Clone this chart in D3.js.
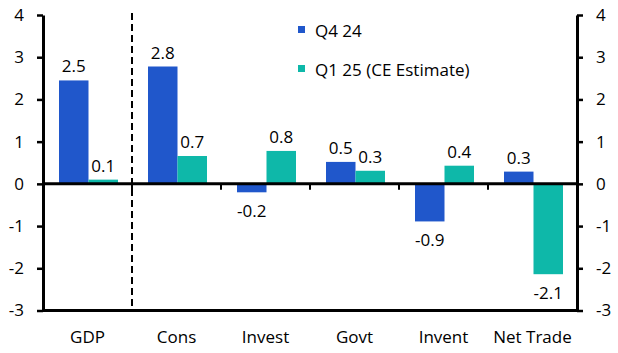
<!DOCTYPE html>
<html>
<head>
<meta charset="utf-8">
<script src="https://cdn.jsdelivr.net/npm/d3@7"></script>
<style>
	body { margin: 0; background: #fff; }
	svg text { font-family: "Open Sans", sans-serif; fill: #000; }
</style>
</head>
<body>
<div id="chart"></div>
<script>
/* contributions chart */

var categories = ["GDP", "Cons", "Invest", "Govt", "Invent", "Net Trade"];
var seriesNames = ["Q4 24", "Q1 25 (CE Estimate)"];
var seriesColors = ["#2057CB", "#0EB8A9"];
var q4Values = [2.45, 2.78, -0.2, 0.52, -0.89, 0.29];
var q1Values = [0.1, 0.66, 0.78, 0.31, 0.43, -2.14];
var q4Labels = ["2.5", "2.8", "-0.2", "0.5", "-0.9", "0.3"];
var q1Labels = ["0.1", "0.7", "0.8", "0.3", "0.4", "-2.1"];
var yTicks = [-3, -2, -1, 0, 1, 2, 3, 4];

var w = 618, h = 353;
var plotLeft = 43, plotRight = 577, plotTop = 15, plotBottom = 310.5;

var svg = d3.select("#chart").append("svg")
	.attr("width", w)
	.attr("height", h);

var x = d3.scaleBand().domain(categories).range([plotLeft, plotRight]);
var x1 = d3.scaleBand().domain([0, 1]).range([16, 75]);
var y = d3.scaleLinear().domain([-3, 4]).range([plotBottom, plotTop]);

var series = [
	{ values: q4Values, labels: q4Labels },
	{ values: q1Values, labels: q1Labels }
];

// bars
series.forEach(function(s, si) {
	var g = svg.append("g");
	g.selectAll("rect")
		.data(categories)
		.enter().append("rect")
		.attr("x", function(d) { return x(d) + x1(si); })
		.attr("width", x1.bandwidth())
		.attr("y", function(d, i) { return y(Math.max(0, s.values[i])); })
		.attr("height", function(d, i) { return Math.abs(y(s.values[i]) - y(0)); })
		.attr("fill", seriesColors[si]);

	g.selectAll("text")
		.data(categories)
		.enter().append("text")
		.attr("x", function(d) { return x(d) + x1(si) + x1.bandwidth() / 2; })
		.attr("y", function(d, i) {
			var v = s.values[i];
			return v >= 0 ? y(v) - 8 : y(v) + 25;
		})
		.attr("text-anchor", "middle")
		.attr("font-size", "17px")
		.text(function(d, i) { return s.labels[i]; });
});

var tickFmt = function(d) { return String(d); };

// left axis
var yl = svg.append("g")
	.attr("transform", "translate(" + plotLeft + ",0)")
	.call(d3.axisLeft(y).tickValues(yTicks).tickFormat(tickFmt)
		.tickSize(6).tickPadding(13).tickSizeOuter(0));

// right axis
var yr = svg.append("g")
	.attr("transform", "translate(" + plotRight + ",0)")
	.call(d3.axisRight(y).tickValues(yTicks).tickFormat(tickFmt)
		.tickSize(6).tickPadding(13).tickSizeOuter(0));

[yl, yr].forEach(function(a) {
	a.select(".domain").attr("stroke", "#000").attr("stroke-width", 3);
	a.selectAll(".tick line").attr("stroke", "#000").attr("stroke-width", 2.5);
	a.selectAll(".tick text")
		.attr("font-size", "17px")
		.attr("font-family", "Open Sans, sans-serif");
});

// bottom frame line at -3
svg.append("line")
	.attr("x1", plotLeft).attr("x2", plotRight)
	.attr("y1", y(-3)).attr("y2", y(-3))
	.attr("stroke", "#000").attr("stroke-width", 3);

// category ticks under zero line
svg.selectAll(".cattick")
	.data(categories.slice(1))
	.enter().append("line")
	.attr("class", "cattick")
	.attr("x1", function(d) { return x(d); })
	.attr("x2", function(d) { return x(d); })
	.attr("y1", y(0))
	.attr("y2", y(0) + 6)
	.attr("stroke", "#000").attr("stroke-width", 2);

// dashed separator after GDP
svg.append("line")
	.attr("x1", x("Cons")).attr("x2", x("Cons"))
	.attr("y1", plotTop - 2).attr("y2", y(-3))
	.attr("stroke", "#000").attr("stroke-width", 2)
	.attr("stroke-dasharray", "7,4");

// zero line
svg.append("line")
	.attr("x1", plotLeft).attr("x2", plotRight)
	.attr("y1", y(0)).attr("y2", y(0))
	.attr("stroke", "#000").attr("stroke-width", 3);

// category labels
svg.selectAll(".catlabel")
	.data(categories)
	.enter().append("text")
	.attr("class", "catlabel")
	.attr("x", function(d) { return x(d) + x.bandwidth() / 2; })
	.attr("y", 343)
	.attr("text-anchor", "middle")
	.attr("font-size", "17px")
	.text(function(d) { return d; });

// legend
var legendY = [37, 76];
seriesNames.forEach(function(name, i) {
	svg.append("rect")
		.attr("x", 298).attr("y", legendY[i] - 11)
		.attr("width", 7).attr("height", 7)
		.attr("fill", seriesColors[i]);
	svg.append("text")
		.attr("x", 315).attr("y", legendY[i])
		.attr("font-size", "17px")
		.text(name);
});
</script>
</body>
</html>
